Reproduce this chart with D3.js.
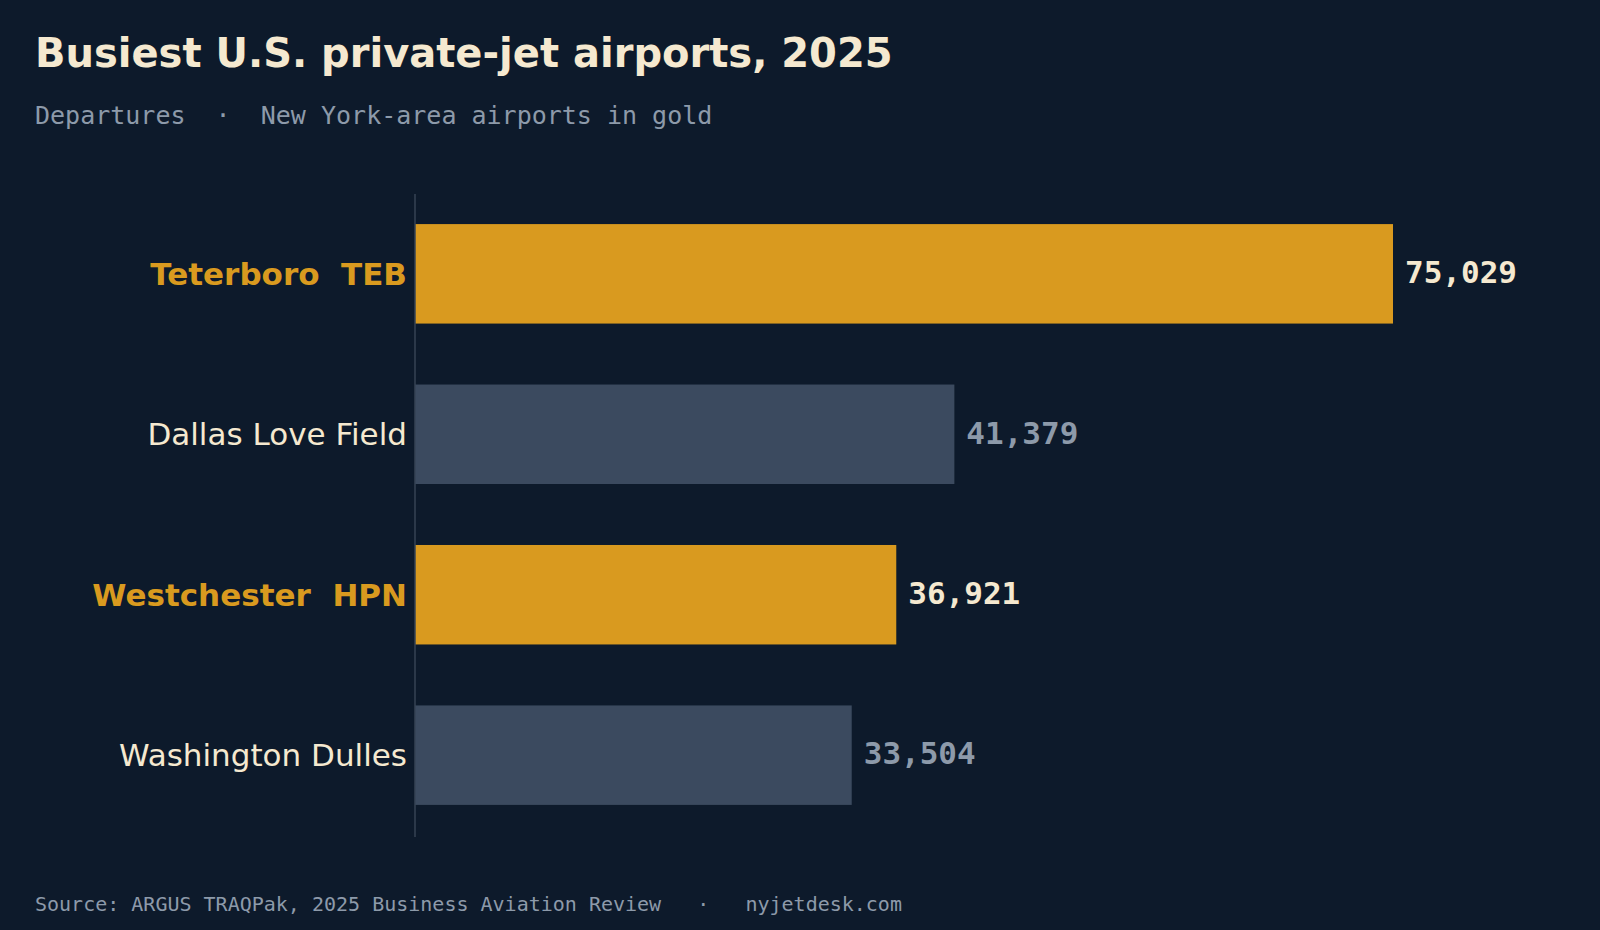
<!DOCTYPE html>
<html>
<head>
<meta charset="utf-8">
<script src="https://cdn.jsdelivr.net/npm/d3@7"></script>
<style>
  html, body { margin: 0; padding: 0; background: #0d1a2b; }
</style>
</head>
<body>
<div id="chart"></div>
<script>
const airports = ["Teterboro  TEB", "Dallas Love Field", "Westchester  HPN", "Washington Dulles"];
const departures = [75029, 41379, 36921, 33504];
const isNewYork = [true, false, true, false];

const width = 1600, height = 930;
const gold = "#d99a1f", slate = "#3b4a5f", cream = "#f5e9d0", muted = "#8d9aaa";

const svg = d3.select("#chart").append("svg")
  .attr("width", width).attr("height", height)
  .style("background", "#0d1a2b");

const left = 415;
const x = d3.scaleLinear().domain([0, 75029]).range([left, left + 978]);
const y = d3.scaleBand().domain(airports).range([192, 837]).paddingInner(0.38).paddingOuter(0.2);

// title + subtitle
svg.append("text").attr("x", 35).attr("y", 67)
  .attr("fill", cream).style("font-family", "DejaVu Sans").style("font-weight", "bold")
  .style("font-size", "40px").text("Busiest U.S. private-jet airports, 2025");
svg.append("text").attr("x", 35).attr("y", 124)
  .attr("fill", muted).style("font-family", "DejaVu Sans Mono")
  .style("font-size", "25px").attr("xml:space", "preserve")
  .text("Departures  ·  New York-area airports in gold");

const rows = airports.map((a, i) => ({ name: a, value: departures[i], ny: isNewYork[i] }));

svg.selectAll("rect.bar").data(rows).join("rect")
  .attr("x", x(0)).attr("y", d => y(d.name))
  .attr("width", d => x(d.value) - x(0)).attr("height", y.bandwidth())
  .attr("fill", d => d.ny ? gold : slate);

// axis line
svg.append("line").attr("x1", left).attr("x2", left).attr("y1", 194).attr("y2", 837)
  .attr("stroke", "#364354").attr("stroke-width", 1.5);

svg.selectAll("text.label").data(rows).join("text")
  .attr("x", left - 8).attr("y", d => y(d.name) + y.bandwidth() / 2)
  .attr("dy", "0.35em").attr("text-anchor", "end")
  .attr("fill", d => d.ny ? gold : cream)
  .style("font-family", "DejaVu Sans").style("font-size", "31px")
  .style("font-weight", d => d.ny ? "bold" : "normal")
  .attr("xml:space", "preserve")
  .text(d => d.name);

svg.selectAll("text.value").data(rows).join("text")
  .attr("x", d => x(d.value) + 12).attr("y", d => y(d.name) + y.bandwidth() / 2)
  .attr("dy", "0.3em")
  .attr("fill", d => d.ny ? cream : muted)
  .style("font-family", "DejaVu Sans Mono").style("font-weight", "bold").style("font-size", "31px")
  .text(d => d3.format(",")(d.value));

svg.append("text").attr("x", 35).attr("y", 911)
  .attr("fill", muted).style("font-family", "DejaVu Sans Mono").style("font-size", "20px")
  .attr("xml:space", "preserve")
  .text("Source: ARGUS TRAQPak, 2025 Business Aviation Review   ·   nyjetdesk.com");
</script>
</body>
</html>
